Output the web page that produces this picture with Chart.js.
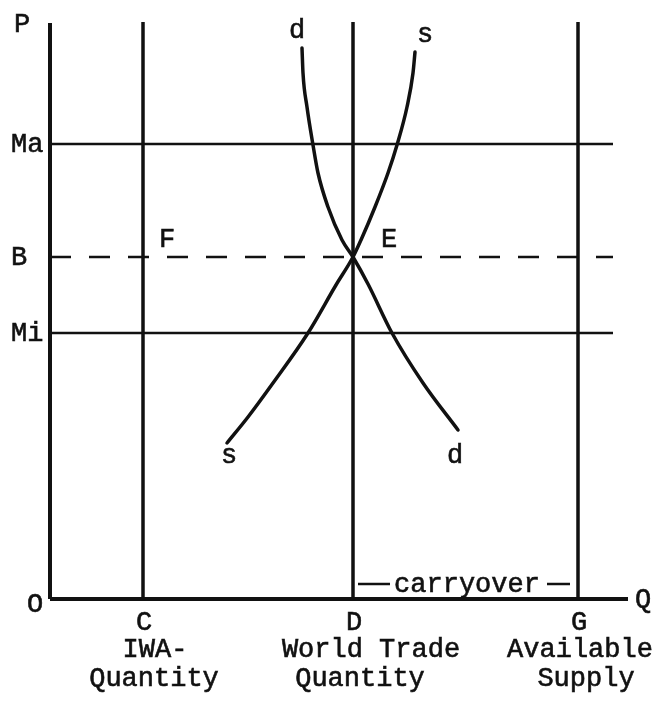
<!DOCTYPE html>
<html>
<head>
<meta charset="utf-8">
<script src="https://cdn.jsdelivr.net/npm/chart.js@4.4.1/dist/chart.umd.min.js"></script>
<style>
  body { margin: 0; background: #fff; }
  #wrap { width: 656px; height: 704px; position: relative; }
</style>
</head>
<body>
<div id="wrap"><canvas id="diagram"></canvas></div>
<script>
// Quantités (axe Q) et prix (axe P) repérés sur le graphique
const qtyMarks = [9.3, 30.3, 52.8];
const qtyLabels = ['C', 'D', 'G'];
const qtyCaptions = [['IWA-', 'Quantity'], ['World Trade', 'Quantity'], ['Available', 'Supply']];
const captionCenters = [[10.5, 10.4], [32.1, 31.0], [53.0, 53.6]];
const priceMarks = [45.5, 34.2, 26.6];
const priceLabels = ['Ma', 'B', 'Mi'];
const lineTop = 57.7;
const lineEnd = 56.3;

// Courbe de demande d et d'offre s (Q croissant)
const demandQ = [25.2, 25.3, 25.7, 26.3, 26.8, 27.8, 29.2, 30.3, 31.8, 34.2, 37.3, 40.8];
const demandP = [55.1, 52.6, 49.2, 45.4, 42.6, 39.2, 35.9, 34.2, 31.5, 26.6, 21.6, 16.9];
const supplyQ = [17.7, 19.8, 22.3, 25.8, 28.6, 30.3, 31.1, 32.5, 33.8, 34.7, 35.7, 36.3, 36.5];
const supplyP = [15.6, 18.2, 21.6, 26.6, 31.4, 34.2, 35.9, 39.2, 42.6, 45.4, 49.2, 52.6, 54.7];

const pts = (xs, ys) => xs.map((x, i) => ({ x: x, y: ys[i] }));
const INK = '#111';

const datasets = [];
function seg(data, width, dash) {
    datasets.push({
        data: data, borderColor: INK, borderWidth: width, borderDash: dash || [],
        pointRadius: 0, tension: 0, clip: false, borderCapStyle: 'butt'
    });
}

// Axes O-P et O-Q
seg([{ x: 0, y: 0 }, { x: 0, y: 57.6 }], 4);
seg([{ x: 0, y: 0 }, { x: 57.8, y: 0 }], 4);
// Verticales C, D, G
qtyMarks.forEach(q => seg([{ x: q, y: 0 }, { x: q, y: lineTop }], 3.5));
// Horizontales Ma, B (pointillé), Mi
priceMarks.forEach((p, i) => seg([{ x: 0, y: p }, { x: lineEnd, y: p }], 2.5, i === 1 ? [21, 18] : []));
// Courbes d et s
[pts(demandQ, demandP), pts(supplyQ, supplyP)].forEach(d => {
    datasets.push({
        data: d, borderColor: INK, borderWidth: 3.5, pointRadius: 0,
        cubicInterpolationMode: 'monotone', clip: false, borderCapStyle: 'round'
    });
});

// Textes posés en coordonnées du graphique
const textLabels = [
    { t: 'P', x: -2.8, y: 56.7 },
    { t: 'O', x: -1.5, y: -1.3 },
    { t: 'Q', x: 59.3, y: -0.8 },
    { t: 'F', x: 11.7, y: 35.2 },
    { t: 'E', x: 33.9, y: 35.2 },
    { t: 'd', x: 24.7, y: 56.1 },
    { t: 's', x: 37.5, y: 55.7 },
    { t: 's', x: 17.9, y: 13.6 },
    { t: 'd', x: 40.5, y: 13.6 },
    { t: 'carryover', x: 41.7, y: 0.7 }
];

const textPlugin = {
    id: 'textPlugin',
    afterDatasetsDraw(chart) {
        const ctx = chart.ctx;
        const xs = chart.scales.x, ys = chart.scales.y;
        ctx.save();
        ctx.fillStyle = INK;
        ctx.strokeStyle = INK;
        ctx.lineWidth = 0.6;
        ctx.font = '27px "Liberation Mono", "Courier New", monospace';
        ctx.textBaseline = 'alphabetic';
        ctx.textAlign = 'center';
        const draw = (t, px, py) => { ctx.fillText(t, px, py); ctx.strokeText(t, px, py); };
        const put = (t, x, y) => draw(t, xs.getPixelForValue(x), ys.getPixelForValue(y));

        textLabels.forEach(l => put(l.t, l.x, l.y));
        // Niveaux de prix à gauche de l'axe
        ctx.textAlign = 'left';
        priceLabels.forEach((l, i) => draw(l, 11, ys.getPixelForValue(priceMarks[i]) + 8));
        ctx.textAlign = 'center';
        // Quantités sous l'axe
        qtyLabels.forEach((l, i) => put(l, qtyMarks[i] + 0.1, -3.1));
        qtyCaptions.forEach((c, i) => {
            put(c[0], captionCenters[i][0], -5.8);
            put(c[1], captionCenters[i][1], -8.7);
        });
        // Tirets autour de "carryover"
        ctx.lineWidth = 2.5;
        [[30.8, 34.0], [49.7, 52.0]].forEach(r => {
            ctx.beginPath();
            ctx.moveTo(xs.getPixelForValue(r[0]), ys.getPixelForValue(1.5));
            ctx.lineTo(xs.getPixelForValue(r[1]), ys.getPixelForValue(1.5));
            ctx.stroke();
        });
        ctx.restore();
    }
};

const ctx = document.getElementById('diagram').getContext('2d');
new Chart(ctx, {
    type: 'line',
    data: { datasets: datasets },
    options: {
        responsive: true,
        maintainAspectRatio: false,
        animation: false,
        layout: { padding: { left: 50, right: 28, top: 22, bottom: 105 } },
        plugins: { legend: { display: false }, tooltip: { enabled: false } },
        scales: {
            x: { type: 'linear', min: 0, max: 57.8, display: false },
            y: { type: 'linear', min: 0, max: 57.7, display: false }
        }
    },
    plugins: [textPlugin]
});
</script>
</body>
</html>
